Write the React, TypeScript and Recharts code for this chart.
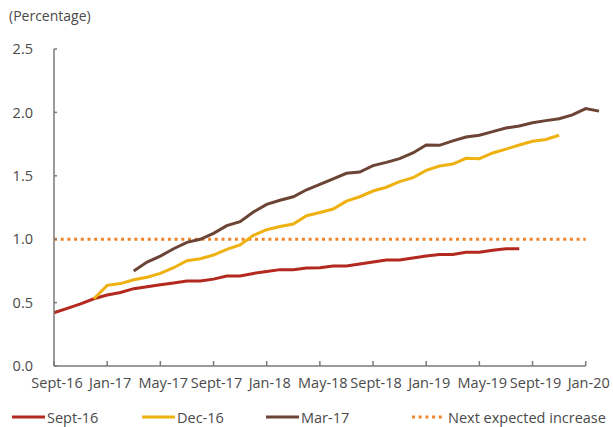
import { LineChart, Line, XAxis, YAxis, ReferenceLine } from "recharts";

// monthly index 0 = Sept-16
const TICK_LABELS = [
  "Sept-16", "Jan-17", "May-17", "Sept-17", "Jan-18", "May-18",
  "Sept-18", "Jan-19", "May-19", "Sept-19", "Jan-20",
];
const Y_TICKS = [0, 0.5, 1, 1.5, 2, 2.5];

const SEPT16_START = 0;
const SEPT16 = [
  0.42, 0.455, 0.49, 0.53, 0.56, 0.58, 0.61, 0.625, 0.64, 0.655, 0.67, 0.67,
  0.685, 0.71, 0.71, 0.73, 0.745, 0.76, 0.76, 0.773, 0.775, 0.789, 0.789, 0.804,
  0.82, 0.836, 0.836, 0.852, 0.868, 0.88, 0.88, 0.897, 0.897, 0.912, 0.925, 0.925,
];
const DEC16_START = 3;
const DEC16 = [
  0.53, 0.636, 0.65, 0.68, 0.7, 0.73, 0.775, 0.83, 0.846, 0.875, 0.92, 0.955,
  1.03, 1.075, 1.1, 1.12, 1.185, 1.21, 1.238, 1.3, 1.335, 1.38, 1.41, 1.454,
  1.485, 1.543, 1.577, 1.593, 1.638, 1.635, 1.68, 1.71, 1.743, 1.772, 1.787, 1.82,
];
const MAR17_START = 6;
const MAR17 = [
  0.75, 0.82, 0.867, 0.925, 0.975, 0.999, 1.046, 1.107, 1.138, 1.214, 1.275, 1.307,
  1.335, 1.39, 1.433, 1.475, 1.52, 1.53, 1.58, 1.606, 1.635, 1.68, 1.743, 1.74,
  1.775, 1.806, 1.82, 1.848, 1.877, 1.893, 1.919, 1.935, 1.95, 1.98, 2.03, 2.01,
];
const NEXT_INCREASE = 1.0;

const RED = "#b3281f";
const YELLOW = "#efb10f";
const BROWN = "#6c4435";
const ORANGE = "#f0842a";
const AXIS = "#7a7a7a";
const TEXT = "#4a4a4a";
const FONT = "'Open Sans', sans-serif";
const FS = 14.5;

const N_MONTHS = 42;
const data = Array.from({ length: N_MONTHS }, (_, m) => ({
  m,
  sept16: SEPT16[m - SEPT16_START] ?? null,
  dec16: DEC16[m - DEC16_START] ?? null,
  mar17: MAR17[m - MAR17_START] ?? null,
}));

const LEGEND = [
  { label: "Sept-16", color: RED, x: 12, dotted: false },
  { label: "Dec-16", color: YELLOW, x: 142, dotted: false },
  { label: "Mar-17", color: BROWN, x: 266, dotted: false },
  { label: "Next expected increase", color: ORANGE, x: 412, dotted: true },
];

export default function App() {
  const xTicks = TICK_LABELS.map((_, i) => i * 4);
  return (
    <div
      style={{
        position: "absolute",
        left: 0,
        top: 0,
        width: 613,
        height: 427,
        background: "#fff",
        fontFamily: FONT,
        color: TEXT,
      }}
    >
      <div style={{ position: "absolute", left: 9, top: 6, fontSize: 14, lineHeight: "20px" }}>
        (Percentage)
      </div>
      <LineChart
        width={613}
        height={427}
        data={data}
        margin={{ top: 49, right: 14, bottom: 0, left: 0 }}
      >
        <XAxis
          type="number"
          dataKey="m"
          domain={[0, 41]}
          ticks={xTicks}
          interval={0}
          height={61}
          axisLine={false}
          tickLine={{ stroke: AXIS, strokeWidth: 1.5 }}
          tickSize={-5}
          tickMargin={17}
          tick={{ fill: TEXT, fontSize: FS, fontFamily: FONT, dx: 3 }}
          tickFormatter={(v: number) => TICK_LABELS[v / 4]}
        />
        <YAxis
          domain={[0, 2.5]}
          ticks={Y_TICKS}
          width={54}
          axisLine={{ stroke: AXIS, strokeWidth: 1.5 }}
          tickLine={{ stroke: AXIS, strokeWidth: 1.5 }}
          tickSize={-3}
          tickMargin={24}
          tick={{ fill: TEXT, fontSize: FS, fontFamily: FONT }}
          tickFormatter={(v: number) => v.toFixed(1)}
        />
        <ReferenceLine
          segment={[{ x: 0, y: 0 }, { x: 40, y: 0 }]}
          stroke={AXIS}
          strokeWidth={1.5}
        />
        <ReferenceLine
          segment={[{ x: 0, y: NEXT_INCREASE }, { x: 40, y: NEXT_INCREASE }]}
          stroke={ORANGE}
          strokeWidth={3}
          strokeDasharray="3 3.7"
        />
        <Line dataKey="sept16" stroke={RED} strokeWidth={3} dot={false} isAnimationActive={false} />
        <Line dataKey="dec16" stroke={YELLOW} strokeWidth={3} dot={false} isAnimationActive={false} />
        <Line dataKey="mar17" stroke={BROWN} strokeWidth={3} dot={false} isAnimationActive={false} />
      </LineChart>
      {LEGEND.map((item) => (
        <div
          key={item.label}
          style={{
            position: "absolute",
            left: item.x,
            top: 407,
            height: 20,
            display: "flex",
            alignItems: "center",
            fontSize: FS,
            whiteSpace: "nowrap",
          }}
        >
          <svg width={item.dotted ? 34 : 33} height={4} style={{ marginRight: 2 }}>
            <line
              x1={0}
              y1={2}
              x2={item.dotted ? 30 : 33}
              y2={2}
              stroke={item.color}
              strokeWidth={3}
              strokeDasharray={item.dotted ? "3 3.7" : undefined}
            />
          </svg>
          <span>{item.label}</span>
        </div>
      ))}
    </div>
  );
}
